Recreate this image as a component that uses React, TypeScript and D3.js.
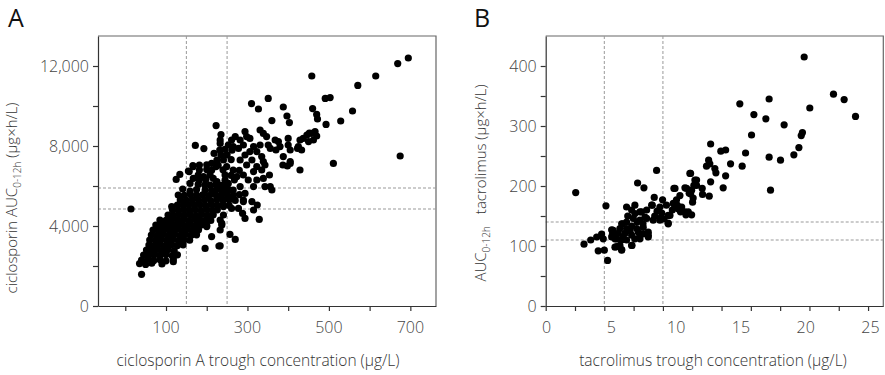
import React, { useEffect, useRef } from "react";
import * as d3 from "d3";

// Panel A – ciclosporin: [trough µg/L, AUC0-12h µg×h/L]
const cyaPoints: [number, number][] = [
  [14, 4850], [40, 1585], [118, 2215], [114, 4970],
  [35, 2120], [50, 2080], [65, 2140], [90, 2100],
  [40, 2300], [55, 2340], [70, 2280], [85, 2320], [100, 2260], [118, 2350],
  [45, 2550], [58, 2520], [72, 2580], [86, 2540], [100, 2570], [115, 2520], [128, 2560],
  [52, 2800], [65, 2780], [78, 2830], [92, 2790], [105, 2820], [120, 2770],
  [58, 3050], [72, 3030], [86, 3080], [100, 3040], [114, 3070], [128, 3020], [142, 3060],
  [60, 3300], [74, 3280], [88, 3330], [102, 3290], [116, 3320], [130, 3270], [144, 3310], [158, 3290],
  [64, 3550], [78, 3530], [92, 3570], [106, 3540], [120, 3560], [134, 3520], [148, 3580], [162, 3540], [175, 3560],
  [68, 3800], [82, 3780], [96, 3820], [110, 3790], [124, 3810], [138, 3770], [152, 3830], [166, 3790], [180, 3810],
  [75, 4050], [90, 4030], [104, 4070], [118, 4040], [132, 4060], [146, 4020], [160, 4080], [174, 4040], [188, 4060], [200, 4030],
  [85, 4300], [100, 4280], [114, 4320], [128, 4290], [142, 4310], [156, 4270], [170, 4330], [184, 4290], [198, 4310], [210, 4280],
  [105, 4550], [118, 4530], [132, 4570], [146, 4540], [160, 4560], [174, 4520], [188, 4580], [202, 4540], [216, 4560],
  [116, 4800], [130, 4780], [144, 4820], [158, 4790], [172, 4810], [186, 4770], [200, 4830], [214, 4790], [226, 4810],
  [128, 5050], [142, 5030], [156, 5070], [170, 5040], [184, 5060], [198, 5020], [212, 5080], [226, 5040], [240, 5060], [255, 5030],
  [135, 5300], [150, 5280], [165, 5320], [180, 5290], [195, 5310], [210, 5270], [225, 5330], [240, 5290], [255, 5310], [270, 5280], [290, 5300],
  [196, 2880], [230, 3000], [212, 3470], [233, 3800], [237, 4130], [200, 3970], [233, 4300],
  [241, 4970], [261, 4880], [278, 4880], [261, 5380], [290, 5220], [311, 5220], [324, 5050],
  [315, 4800], [288, 4630], [294, 4380], [329, 4330], [241, 4550], [237, 4050], [257, 3580],
  [270, 3330], [233, 3010],
  [130, 5550], [145, 5530], [160, 5570], [175, 5540], [190, 5560], [205, 5520], [220, 5580], [235, 5540], [250, 5560], [265, 5530], [280, 5570], [294, 5630],
  [141, 5850], [159, 5750], [175, 5820], [196, 5800], [212, 5780], [226, 5830], [240, 5790], [255, 5810], [265, 5800], [282, 5970], [360, 5800],
  [159, 6130], [179, 6080], [195, 6050], [208, 6050], [222, 6070], [236, 6030], [250, 6060], [302, 6300], [315, 5970], [343, 5970], [356, 5970],
  [125, 6330], [167, 6380], [182, 6300], [198, 6320], [216, 6380], [225, 6220], [245, 6290], [253, 6130], [268, 6310], [323, 6300], [339, 6380],
  [134, 6580], [157, 6720], [179, 6550], [192, 6470], [208, 6560], [245, 6550], [260, 6530], [274, 6470], [290, 6550], [354, 6550],
  [155, 6750], [167, 6970], [182, 6800], [200, 6820], [212, 6790], [223, 6970], [240, 6810], [265, 6800], [280, 6780], [315, 6720], [335, 6800], [429, 6800],
  [166, 7020], [182, 7050], [200, 7060], [212, 7130], [228, 7040], [249, 6970], [298, 7050], [323, 6970], [343, 7050], [387, 7050], [398, 7000], [405, 7130],
  [225, 7290], [241, 7300], [260, 7320], [282, 7300], [311, 7300], [339, 7220], [405, 7220],
  [218, 7630], [235, 7540], [250, 7560], [294, 7550], [335, 7470], [388, 7470],
  [193, 7870], [245, 7830], [232, 7800], [262, 7790], [278, 7880], [306, 7720], [323, 7720], [356, 7880], [370, 7800], [405, 7800], [423, 7880], [433, 7800],
  [172, 8030], [233, 8130], [253, 8050], [265, 7970], [290, 8050], [315, 7970], [331, 8050], [351, 8050], [380, 7970], [400, 8050], [425, 7970],
  [233, 8300], [261, 8300], [282, 8300], [298, 8470], [368, 8300], [376, 8220], [429, 8300], [462, 8300], [450, 8220],
  [235, 8570], [270, 8470], [306, 8380], [339, 8630], [347, 8470], [400, 8380], [437, 8380], [446, 8550], [458, 8630], [470, 8500], [452, 8650], [466, 8720],
  [294, 8720], [331, 8800], [223, 9020],
  [310, 10120], [351, 10380], [327, 9850], [388, 9950], [397, 9500], [403, 9170], [360, 9270],
  [458, 11500], [571, 11030], [615, 11500], [669, 12120], [695, 12400], [675, 7500], [511, 7130],
  [558, 9750], [529, 9250], [491, 10380], [503, 10420], [460, 9870], [470, 9580], [472, 9350], [493, 9080],
];
const cyaXLabels = [100, 300, 500, 700];
const cyaXMarks = [0, 100, 200, 300, 400, 500, 600, 700];
const cyaYLabels = [0, 4000, 8000, 12000];
const cyaYMarks = [0, 2000, 4000, 6000, 8000, 10000, 12000];
const cyaTroughLimits = [150, 250];
const cyaAucLimits = [4850, 5900];

// Panel B – tacrolimus: [trough µg/L, AUC0-12h µg×h/L]
const tacPoints: [number, number][] = [
  [2.56, 189], [3.27, 103], [3.84, 110], [4.48, 92], [4.35, 115], [4.77, 120], [5.0, 93], [5.28, 76],
  [5.14, 167], [5.68, 126], [5.68, 118], [5.91, 112], [6.05, 99], [6.48, 94], [6.56, 137], [6.9, 165],
  [7.36, 101], [7.84, 205], [8.38, 197], [7.61, 168], [8.04, 157], [8.47, 148], [8.75, 118], [9.09, 168],
  [9.26, 181], [9.17, 143], [9.97, 177], [9.74, 143], [10.45, 137], [10.6, 151], [10.94, 196], [11.02, 165],
  [11.22, 168], [11.45, 184], [11.5, 157], [11.96, 152], [12.02, 196], [12.36, 187], [12.53, 173], [12.64, 201],
  [13.35, 196], [13.95, 183], [14.07, 207], [15.14, 197], [19.18, 193], [9.46, 226],
  [12.3, 221], [12.73, 210], [11.88, 197], [11.03, 196], [7.33, 160], [7.61, 154], [8.18, 157], [8.61, 160],
  [9.04, 168], [9.74, 165], [10.3, 168], [10.88, 171], [11.3, 162], [11.88, 157], [10.45, 151], [9.74, 146],
  [10.45, 138], [8.61, 146], [8.04, 143], [7.47, 146], [6.9, 140], [6.48, 137], [6.33, 129], [6.9, 129],
  [7.33, 133], [7.76, 129], [8.32, 131], [8.75, 123], [8.04, 118], [7.33, 118], [6.76, 121], [6.19, 121],
  [5.76, 126], [5.63, 115], [6.05, 112], [6.48, 110], [6.9, 110], [6.33, 101], [5.91, 98], [6.48, 93],
  [7.33, 101], [8.04, 112], [8.75, 115], [4.91, 112], [5.63, 127], [11.6, 165], [12.45, 193], [12.87, 201],
  [7.0, 150], [7.8, 140], [8.3, 137], [9.3, 150], [9.9, 155], [10.8, 160], [7.2, 125], [7.9, 123],
  [6.6, 115], [7.6, 112], [8.3, 120], [9.5, 158], [10.1, 145], [11.16, 177], [12.16, 157], [12.45, 152],
  [12.36, 221], [12.24, 188], [12.87, 210], [12.58, 180], [13.38, 186], [14.07, 270], [13.72, 233], [13.9, 243],
  [14.0, 237], [14.43, 229], [14.52, 222], [14.94, 258], [15.35, 260], [15.35, 217], [15.77, 237], [16.56, 337],
  [16.76, 233], [17.05, 255], [17.56, 285], [17.76, 319], [18.78, 312], [19.06, 345], [19.06, 248], [20.03, 243],
  [20.34, 302], [21.17, 252], [21.6, 264], [21.8, 284], [21.9, 289], [22.05, 415], [22.53, 330], [24.55, 353],
  [25.46, 344], [26.43, 316],
];
const tacXLabels = [0, 5, 10, 15, 20, 25];
const tacXMarks = [0, 2.5, 5, 7.5, 10, 12.5, 15, 17.5, 20, 22.5, 25, 27.5];
const tacYLabels = [0, 100, 200, 300, 400];
const tacYMarks = [0, 50, 100, 150, 200, 250, 300, 350, 400];
const tacTroughLimits = [5, 10];
const tacAucLimits = [110, 140];

const FONT = "'Open Sans', 'DejaVu Sans', sans-serif";

const App = () => {
  const ref = useRef<SVGSVGElement>(null);

  useEffect(() => {
    renderChart();
  }, []);

  const drawPanel = (svg, p) => {
    const x = d3.scaleLinear().domain(p.xDomain).range([p.left, p.right]);
    const y = d3.scaleLinear().domain(p.yDomain).range([p.bottom, p.top]);
    const xLab = p.xLabelRange
      ? d3.scaleLinear().domain([0, 25]).range(p.xLabelRange.map(x))
      : x;
    const g = svg.append("g");

    // box top/right
    g.append("path")
      .attr("d", `M${p.left},${p.top}H${p.right}V${p.bottom}`)
      .attr("fill", "none")
      .attr("stroke", "#666")
      .attr("stroke-width", 1.2);

    // reference lines
    p.xLimits.forEach((v) => {
      g.append("line")
        .attr("x1", x(v)).attr("x2", x(v))
        .attr("y1", p.top).attr("y2", p.bottom)
        .attr("stroke", "#999").attr("stroke-dasharray", "3,2");
    });
    p.yLimits.forEach((v) => {
      g.append("line")
        .attr("x1", p.left).attr("x2", p.right)
        .attr("y1", y(v)).attr("y2", y(v))
        .attr("stroke", "#999").attr("stroke-dasharray", "3,2");
    });

    g.append("g")
      .selectAll("circle")
      .data(p.points)
      .enter()
      .append("circle")
      .attr("cx", (d) => x(d[0]))
      .attr("cy", (d) => y(d[1]))
      .attr("r", 3.6)
      .attr("fill", "#000");

    const xAxis = g.append("g")
      .attr("transform", `translate(0,${p.bottom})`)
      .call(d3.axisBottom(x).tickValues(p.xMarks).tickSize(5).tickSizeOuter(0).tickFormat(() => ""));
    const yAxis = g.append("g")
      .attr("transform", `translate(${p.left},0)`)
      .call(d3.axisLeft(y).tickValues(p.yMarks).tickSize(5).tickSizeOuter(0).tickFormat(() => ""));
    [xAxis, yAxis].forEach((a) => {
      a.selectAll("path, line").attr("stroke", "#333").attr("stroke-width", 1.2);
    });

    g.selectAll(null)
      .data(p.xLabels)
      .enter()
      .append("text")
      .attr("x", (d) => xLab(d))
      .attr("y", p.bottom + 27)
      .attr("text-anchor", "middle")
      .attr("font-size", 16)
      .attr("font-weight", 300)
      .attr("fill", "#444")
      .text((d) => d3.format(",")(d));

    g.selectAll(null)
      .data(p.yLabels)
      .enter()
      .append("text")
      .attr("x", p.left - 9)
      .attr("y", (d) => y(d))
      .attr("dy", "0.36em")
      .attr("text-anchor", "end")
      .attr("font-size", 16)
      .attr("font-weight", 300)
      .attr("fill", "#444")
      .text((d) => d3.format(",")(d));

    g.append("text")
      .attr("x", p.xTitleX)
      .attr("y", 366)
      .attr("text-anchor", "middle")
      .attr("font-size", 15.5)
      .attr("font-weight", 300)
      .attr("fill", "#333")
      .text(p.xTitle);

    const yt = g.append("text")
      .attr("transform", `translate(${p.yTitleX},${p.yTitleY}) rotate(-90)`)
      .attr("text-anchor", "middle")
      .attr("font-size", 15)
      .attr("font-weight", 300)
      .attr("fill", "#333");
    p.yTitle.forEach((part) => {
      const t = yt.append("tspan").text(part.text);
      if (part.sub) t.attr("font-size", 10).attr("dy", 4);
      if (part.up) t.attr("dy", -4);
      if (part.dx) t.attr("dx", part.dx);
    });

    g.append("text")
      .attr("x", p.letterX)
      .attr("y", 27)
      .attr("font-size", 25)
      .attr("font-weight", 400)
      .attr("fill", "#111")
      .text(p.letter);
  };

  const renderChart = () => {
    const svg = d3.select(ref.current);
    svg.selectAll("*").remove();
    svg.attr("font-family", FONT);

    drawPanel(svg, {
      letter: "A", letterX: 8,
      left: 98, right: 436, top: 36, bottom: 306,
      xDomain: [-67, 763], yDomain: [0, 13500],
      points: cyaPoints,
      xMarks: cyaXMarks, xLabels: cyaXLabels,
      yMarks: cyaYMarks, yLabels: cyaYLabels,
      xLimits: cyaTroughLimits, yLimits: cyaAucLimits,
      xTitle: "ciclosporin A trough concentration (µg/L)", xTitleX: 258,
      yTitleX: 17, yTitleY: 198,
      yTitle: [
        { text: "ciclosporin AUC" },
        { text: "0-12h", sub: true },
        { text: " (µg×h/L)", up: true },
      ],
    });

    drawPanel(svg, {
      letter: "B", letterX: 474,
      left: 545.7, right: 883.3, top: 36, bottom: 306,
      xDomain: [0, 28.8], yDomain: [0, 450],
      xLabelRange: [0.08, 27.7],
      points: tacPoints,
      xMarks: tacXMarks, xLabels: tacXLabels,
      yMarks: tacYMarks, yLabels: tacYLabels,
      xLimits: tacTroughLimits, yLimits: tacAucLimits,
      xTitle: "tacrolimus trough concentration (µg/L)", xTitleX: 713,
      yTitleX: 486, yTitleY: 183,
      yTitle: [
        { text: "AUC" },
        { text: "0-12h", sub: true },
        { text: "tacrolimus (µg×h/L)", up: true, dx: 12 },
      ],
    });
  };

  return (
    <svg
      ref={ref}
      width={885}
      height={375}
      style={{ position: "absolute", left: 0, top: 0, background: "#fff" }}
    />
  );
};

export default App;
